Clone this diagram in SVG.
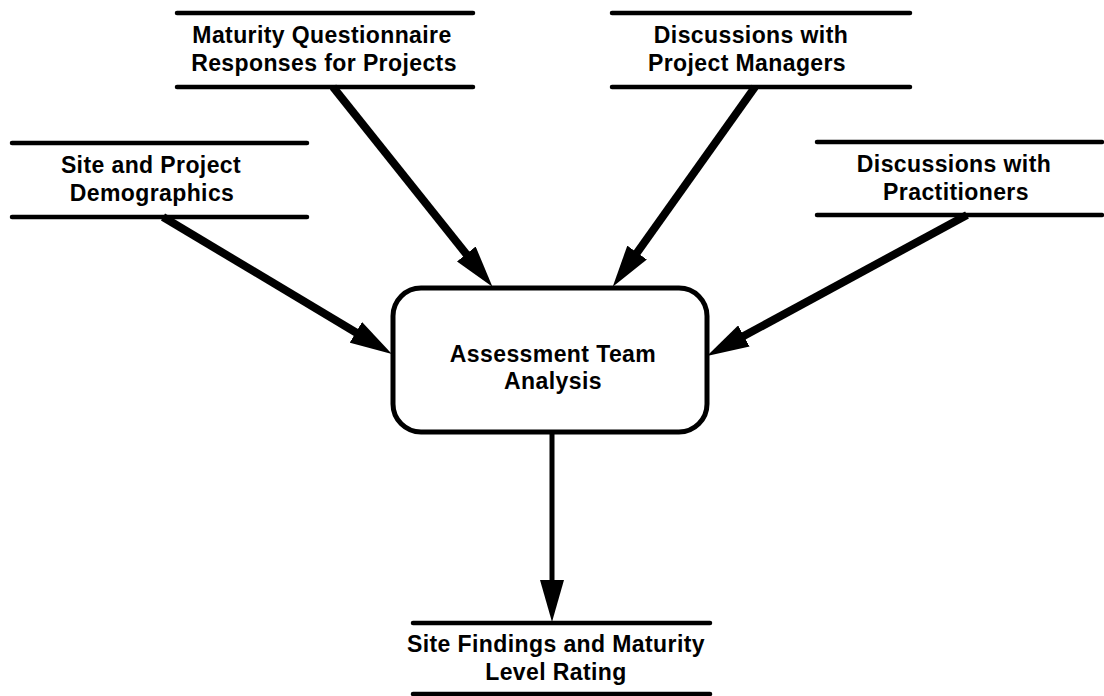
<svg xmlns="http://www.w3.org/2000/svg" width="1104" height="696" viewBox="0 0 1104 696">
  <style>
    .store { stroke: #000; stroke-width: 4.5; stroke-linecap: round; fill: none; }
    .label { font-family: "Liberation Sans", Arial, sans-serif; font-size: 23px; font-weight: bold; fill: #000; text-anchor: middle; letter-spacing: 0.4px; }
    .flow { stroke: #000; stroke-width: 8; fill: none; marker-end: url(#head); }
    .flow.thin { stroke-width: 5; }
    .proc { stroke: #000; stroke-width: 5; fill: #fff; }
  </style>
  <defs>
    <marker id="head" viewBox="0 0 42 24" refX="6" refY="12" markerWidth="42" markerHeight="24" markerUnits="userSpaceOnUse" orient="auto">
      <path d="M0,0 L42,12 L0,24 Z" fill="#000"/>
    </marker>
  </defs>
  <rect width="1104" height="696" fill="#fff"/>

  <!-- data flows into and out of the analysis process -->
  <g id="connectors">
    <line class="flow" x1="163" y1="217" x2="361" y2="335.5"/>
    <line class="flow" x1="333" y1="87" x2="470" y2="258.7"/>
    <line class="flow" x1="755" y1="87" x2="633.6" y2="257.5"/>
    <line class="flow" x1="967" y1="215" x2="738.6" y2="338.8"/>
    <line class="flow thin" x1="552" y1="432" x2="552" y2="586"/>
  </g>

  <g id="store-demographics">
    <line class="store" x1="12" y1="143" x2="307" y2="143"/>
    <line class="store" x1="12" y1="217" x2="307" y2="217"/>
    <text class="label" x="151" y="173" letter-spacing="0.9">Site and Project</text>
    <text class="label" x="152" y="201">Demographics</text>
  </g>

  <g id="store-questionnaire">
    <line class="store" x1="177" y1="13" x2="473" y2="13"/>
    <line class="store" x1="177" y1="87" x2="473" y2="87"/>
    <text class="label" x="322" y="43">Maturity Questionnaire</text>
    <text class="label" x="324" y="71">Responses for Projects</text>
  </g>

  <g id="store-managers">
    <line class="store" x1="612" y1="13" x2="910" y2="13"/>
    <line class="store" x1="612" y1="87" x2="910" y2="87"/>
    <text class="label" x="751" y="43">Discussions with</text>
    <text class="label" x="747" y="71">Project Managers</text>
  </g>

  <g id="store-practitioners">
    <line class="store" x1="817" y1="142" x2="1102" y2="142"/>
    <line class="store" x1="817" y1="215" x2="1102" y2="215"/>
    <text class="label" x="954" y="172">Discussions with</text>
    <text class="label" x="956" y="200">Practitioners</text>
  </g>

  <g id="process-analysis">
    <rect class="proc" x="393" y="288" width="314" height="144" rx="28" ry="28"/>
    <text class="label" x="553" y="362">Assessment Team</text>
    <text class="label" x="553" y="389">Analysis</text>
  </g>

  <g id="store-findings">
    <line class="store" x1="413" y1="623" x2="710" y2="623"/>
    <line class="store" x1="413" y1="694" x2="710" y2="694"/>
    <text class="label" x="556" y="652">Site Findings and Maturity</text>
    <text class="label" x="556" y="680">Level Rating</text>
  </g>
</svg>
